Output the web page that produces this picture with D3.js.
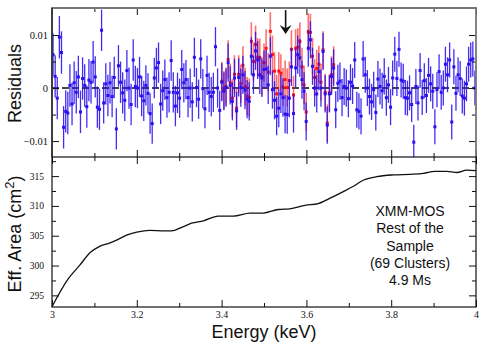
<!DOCTYPE html>
<html>
<head>
<meta charset="utf-8">
<script src="https://cdn.jsdelivr.net/npm/d3@7"></script>
<style>
  body { margin: 0; background: #fff; }
  #chart { width: 485px; height: 346px; }
</style>
</head>
<body>
<div id="chart"></div>
<script>
// Residuals (blue: model with line), one value per energy bin, 3-4 keV
const residBlue = [
  0.0063, 0.0022, -0.0019, 0.0096, 0.0067, -0.0074, -0.0044, -0.0047, 0.0005, -0.0030, 0.0010,
  -0.0008, 0.0021, -0.0045, 0.0018, 0.0005, -0.0035, 0.0015, 0.0011, 0.0049, 0.0021, -0.0036,
  -0.0040, 0.0109, -0.0028, 0.0008, -0.0014, 0.0010, -0.0016, 0.0020, -0.0077, 0.0042, 0.0011,
  -0.0009, -0.0023, 0.0033, 0.0000, -0.0031, 0.0053, 0.0003, 0.0000, 0.0021, -0.0015, -0.0024,
  0.0005, -0.0010, -0.0048, -0.0067, 0.0019, 0.0038, 0.0048, -0.0030, -0.0005, 0.0016, -0.0018,
  -0.0008, 0.0052, -0.0008, -0.0034, -0.0009, -0.0019, 0.0035, 0.0010, 0.0016,
  -0.0018, 0.0000, -0.0026, 0.0058, 0.0001, -0.0021, 0.0055, -0.0001, -0.0039, 0.0024, -0.0008,
  -0.0016, -0.0008, 0.0078, 0.0000, -0.0042, 0.0011, -0.0006, 0.0001, 0.0048, 0.0005, -0.0025,
  0.0019, -0.0043, 0.0020, 0.0001, 0.0025, -0.0004, -0.0021, -0.0025, 0.0060,
  0.0025, 0.0070, 0.0053, 0.0025, 0.0019, 0.0035, 0.0036, 0.0006, 0.0060, -0.0003, -0.0023,
  -0.0053, -0.0038, -0.0011, -0.0018, -0.0049, -0.0050, -0.0019, 0.0040, -0.0048, 0.0038, 0.0063,
  0.0057, 0.0016, -0.0006, -0.0063, 0.0075, 0.0091, 0.0041, 0.0000, -0.0011, 0.0031, 0.0000,
  0.0069, -0.0011, -0.0070, -0.0011, 0.0022, 0.0038, -0.0041, 0.0009, 0.0013, -0.0018, 0.0003,
  0.0000, -0.0020, 0.0011, 0.0004, 0.0053, -0.0041, -0.0044, -0.0053, 0.0055, 0.0025, 0.0000,
  -0.0016, -0.0026, -0.0003, -0.0046, 0.0017, 0.0003, -0.0005, 0.0022, -0.0018, 0.0006, -0.0036,
  0.0019, 0.0064, 0.0018, 0.0073, 0.0015,
  0.0013, -0.0018, -0.0019, -0.0009, -0.0031, -0.0102, 0.0003, -0.0028, 0.0033, -0.0018, 0.0014,
  -0.0014, 0.0024, 0.0008, -0.0006, -0.0073, -0.0003, 0.0031, -0.0008, 0.0000, 0.0045, 0.0025,
  0.0053, -0.0064, 0.0040, -0.0010, 0.0025, 0.0018, -0.0015, -0.0019, 0.0008, 0.0045, 0.0053,
  0.0055, 0.0000
];

// Residuals without the line (red), only where they differ from blue
const redFirstBin = 80;
const residRed = [
  0.0013, -0.0004, 0.0003, 0.0054, 0.0010, -0.0019, 0.0026, -0.0038, 0.0026, 0.0008, 0.0043,
  0.0003, -0.0015, -0.0018, 0.0088,
  0.0050, 0.0082, 0.0058, 0.0057, 0.0022, 0.0048, 0.0075, 0.0030, 0.0107, 0.0063, 0.0032,
  -0.0011, 0.0032, 0.0028, 0.0002, 0.0016, 0.0001, 0.0014, 0.0073, -0.0013, 0.0075, 0.0077,
  0.0088, 0.0040, 0.0006, -0.0045, 0.0106, 0.0105, 0.0060, 0.0020, 0.0037, 0.0045, 0.0011,
  0.0072, -0.0008, -0.0066, -0.0009, 0.0025, 0.0044
];

// 1-sigma error per 0.1 keV segment
const errBySegment = [0.0040, 0.0039, 0.0038, 0.0037, 0.0036, 0.0036, 0.0035, 0.0034, 0.0033, 0.0033];

// Effective area curve
const effEnergy = [3.000, 3.0385, 3.066, 3.090, 3.109, 3.137, 3.156, 3.176, 3.200, 3.231, 3.263, 3.282,
  3.306, 3.329, 3.357, 3.392, 3.428, 3.467, 3.498, 3.534, 3.561, 3.597, 3.628, 3.656, 3.687, 3.711,
  3.734, 3.766, 3.805, 3.844, 3.876, 3.903, 3.931, 3.955, 3.978, 4.000];
const effArea = [293.1, 297.8, 300.1, 302.2, 303.1, 303.8, 304.4, 305.1, 305.6, 305.9, 305.8, 305.8,
  306.4, 307.1, 307.5, 308.3, 308.3, 308.8, 308.8, 309.4, 309.5, 310.1, 310.4, 311.3, 312.4, 313.3,
  314.3, 314.9, 315.2, 315.3, 315.45, 315.8, 315.8, 315.6, 316.0, 315.9];

const lineEnergy = 3.551;
const noteLines = ["XMM-MOS", "Rest of the", "Sample", "(69 Clusters)", "4.9 Ms"];

const svg = d3.select("#chart").append("svg").attr("width", 485).attr("height", 346);

const left = 52, right = 476, top1 = 8, mid = 157, bot = 307;

const x = d3.scaleLinear().domain([3, 4]).range([left, right]);
const yRes = d3.scaleLinear().domain([-0.013, 0.0151]).range([mid, top1]);
const yEff = d3.scaleLinear().domain([293.05, 318.2]).range([bot, mid]);

const nBins = residBlue.length;
const binE = i => 3 + (i + 0.5) / nBins;
const errAt = e => errBySegment[Math.min(9, Math.floor((e - 3) * 10))];

const blue = residBlue.map((v, i) => ({ e: binE(i), v, err: errAt(binE(i)) }));
const red = residRed.map((v, i) => ({ e: binE(i + redFirstBin), v, err: errAt(binE(i + redFirstBin)) }));

svg.append("clipPath").attr("id", "clipTop")
  .append("rect").attr("x", left).attr("y", top1).attr("width", right - left).attr("height", mid - top1);

const dataG = svg.append("g").attr("clip-path", "url(#clipTop)");

// zero line
dataG.append("line")
  .attr("x1", left).attr("x2", right).attr("y1", yRes(0)).attr("y2", yRes(0))
  .attr("stroke", "#444").attr("stroke-width", 2).attr("stroke-dasharray", "7,3");

function drawSeries(data, color, barOpacity, barWidth) {
  const g = dataG.append("g");
  g.selectAll("line").data(data).join("line")
    .attr("x1", d => x(d.e)).attr("x2", d => x(d.e))
    .attr("y1", d => yRes(d.v + d.err)).attr("y2", d => yRes(d.v - d.err))
    .attr("stroke", color).attr("stroke-opacity", barOpacity).attr("stroke-width", barWidth);
  g.selectAll("rect").data(data).join("rect")
    .attr("x", d => x(d.e) - 1.5).attr("y", d => yRes(d.v) - 1.5)
    .attr("width", 3).attr("height", 3)
    .attr("fill", color);
}

drawSeries(red, "#ff1010", 0.6, 1.6);
drawSeries(blue, "#2a0ff0", 0.88, 1.3);

// arrow marking the line energy
const ax = x(lineEnergy);
svg.append("line").attr("x1", ax).attr("x2", ax).attr("y1", yRes(0.0147)).attr("y2", yRes(0.0108))
  .attr("stroke", "#111").attr("stroke-width", 1.6);
svg.append("path")
  .attr("d", `M${ax - 6},${yRes(0.0119)} L${ax},${yRes(0.0102)} L${ax + 6},${yRes(0.0119)} L${ax},${yRes(0.0113)} Z`)
  .attr("fill", "#111");

// effective area
svg.append("path")
  .datum(effEnergy.map((e, i) => [e, effArea[i]]))
  .attr("d", d3.line().x(d => x(d[0])).y(d => yEff(d[1])).curve(d3.curveMonotoneX))
  .attr("fill", "none").attr("stroke", "#111").attr("stroke-width", 1.3);

// ticks
const xTicks = d3.range(0, 11).map(i => 3 + i / 10);
const xMajor = xTicks.filter((d, i) => i % 2 === 0);
const xMinor = xTicks.filter((d, i) => i % 2 === 1);
const effTicks = d3.range(0, 10).map(i => 295 + i * 2.5);

function tickAxis(axisFn, scale, values, size, transform, fmt, pad, fontSize) {
  const g = svg.append("g").attr("transform", transform)
    .call(axisFn(scale).tickValues(values).tickSize(-size).tickPadding(pad)
      .tickFormat(fmt || (() => "")));
  g.select(".domain").remove();
  g.attr("font-family", null);
  g.selectAll(".tick line").attr("stroke", "#111").attr("stroke-width", 1);
  g.selectAll("text").attr("fill", "#111")
    .style("font-family", "'Liberation Serif', 'Times New Roman', Times, 'DejaVu Serif', serif")
    .style("font-size", (fontSize || 10) + "px");
  return g;
}

const resFmt = d => d === 0 ? "0" : (Math.abs(d) === 0.01 ? d3.format(".2f")(d) : "");
const effFmt = d => d % 5 === 0 ? d3.format("d")(d) : "";

// top panel
tickAxis(d3.axisBottom, x, xMajor, 7, `translate(0,${mid})`);
tickAxis(d3.axisBottom, x, xMinor, 4, `translate(0,${mid})`);
tickAxis(d3.axisTop, x, xMajor, 7, `translate(0,${top1})`);
tickAxis(d3.axisTop, x, xMinor, 4, `translate(0,${top1})`);
tickAxis(d3.axisLeft, yRes, [-0.01, 0, 0.01], 7, `translate(${left},0)`, resFmt, 4, 10.5);
tickAxis(d3.axisLeft, yRes, [-0.005, 0.005], 4, `translate(${left},0)`);
tickAxis(d3.axisRight, yRes, [-0.01, 0, 0.01], 7, `translate(${right},0)`);
tickAxis(d3.axisRight, yRes, [-0.005, 0.005], 4, `translate(${right},0)`);

// bottom panel
tickAxis(d3.axisBottom, x, xMajor, 7, `translate(0,${bot})`, d3.format("~g"), 4, 10);
tickAxis(d3.axisBottom, x, xMinor, 4, `translate(0,${bot})`);
tickAxis(d3.axisTop, x, xMajor, 7, `translate(0,${mid})`);
tickAxis(d3.axisTop, x, xMinor, 4, `translate(0,${mid})`);
tickAxis(d3.axisLeft, yEff, effTicks.filter(d => d % 5 === 0), 7, `translate(${left},0)`, effFmt, 8, 9.5);
tickAxis(d3.axisLeft, yEff, effTicks.filter(d => d % 5 !== 0), 4, `translate(${left},0)`);
tickAxis(d3.axisRight, yEff, effTicks.filter(d => d % 5 === 0), 7, `translate(${right},0)`);
tickAxis(d3.axisRight, yEff, effTicks.filter(d => d % 5 !== 0), 4, `translate(${right},0)`);

// frames
svg.append("path").attr("d", `M${left},${mid} V${top1} H${right} V${mid}`)
  .attr("fill", "none").attr("stroke", "#777").attr("stroke-width", 1.8);
svg.append("line").attr("x1", left).attr("x2", left).attr("y1", top1).attr("y2", mid)
  .attr("stroke", "#111").attr("stroke-width", 1.2);
svg.append("rect").attr("x", left).attr("y", mid).attr("width", right - left).attr("height", bot - mid)
  .attr("fill", "none").attr("stroke", "#111").attr("stroke-width", 1.2);

// axis titles
const sans = "'Liberation Sans', Arial, Helvetica, sans-serif";
svg.append("text")
  .attr("transform", `translate(21,${(top1 + mid) / 2 + 1}) rotate(-90)`)
  .attr("text-anchor", "middle")
  .style("font-family", sans).style("font-size", "18px").attr("fill", "#111")
  .text("Residuals");

const effTitle = svg.append("text")
  .attr("transform", `translate(21,${(mid + bot) / 2 + 2}) rotate(-90)`)
  .attr("text-anchor", "middle")
  .style("font-family", sans).style("font-size", "18px").attr("fill", "#111");
effTitle.append("tspan").text("Eff. Area (cm");
effTitle.append("tspan").attr("dy", -7).style("font-size", "13px").text("2");
effTitle.append("tspan").attr("dy", 7).text(")");

svg.append("text")
  .attr("x", (left + right) / 2).attr("y", 338)
  .attr("text-anchor", "middle")
  .style("font-family", sans).style("font-size", "18px").attr("fill", "#111")
  .text("Energy (keV)");

// note block
const note = svg.append("text")
  .attr("text-anchor", "middle")
  .style("font-family", sans).style("font-size", "14px").attr("fill", "#111");
noteLines.forEach((t, i) => {
  note.append("tspan").attr("x", 410).attr("y", 216 + i * 17.3).text(t);
});
</script>
</body>
</html>
